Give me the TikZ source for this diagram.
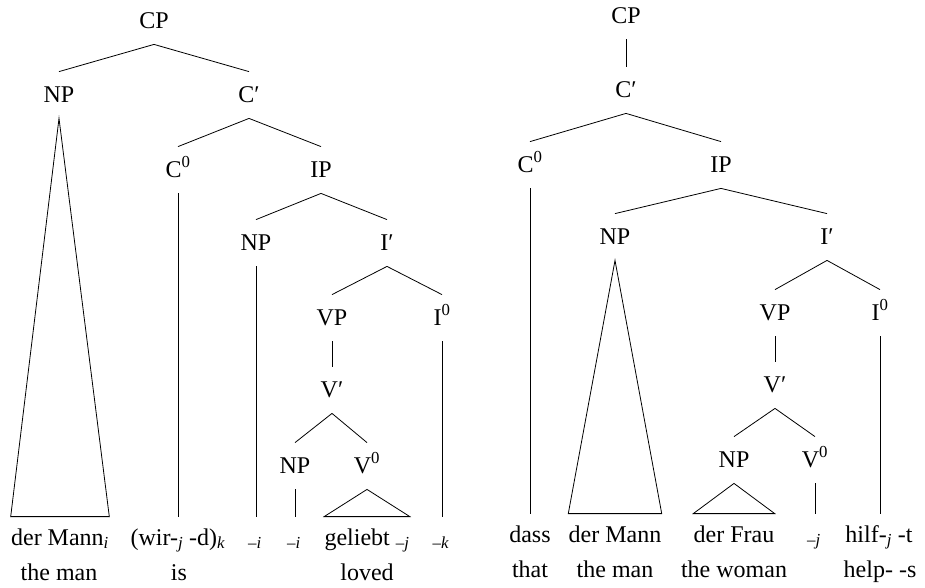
\documentclass[tikz,border=0pt]{standalone}
\usepackage{fontspec}
\setmainfont{Liberation Serif}
\newcommand{\mysub}[1]{\textsubscript{\textit{#1}}}
\newcommand{\mytrace}[1]{\textsubscript{–\textit{#1}}}
\begin{document}
\begin{tikzpicture}[x=1pt,y=-1pt,line width=0.8pt,
  font=\fontsize{24}{28}\selectfont,
  cat/.style={anchor=base,inner xsep=1pt,inner ysep=14pt,text height=16pt,text depth=2pt},
  leaf/.style={anchor=base,inner xsep=0pt,inner ysep=11pt,text height=17pt,text depth=5pt},
  gloss/.style={anchor=base,inner sep=0pt}]
\useasboundingbox (0,0) rectangle (925,587);
% ---------- left tree ----------
\node[cat] (cp) at (154,28) {CP};
\node[cat] (np1) at (59,102) {NP};
\node[cat] (c1) at (249,102) {C′};
\node[cat] (c0) at (178,177) {C\textsuperscript{0}};
\node[cat] (ip) at (321,177) {IP};
\node[cat] (np2) at (256,250) {NP};
\node[cat] (ib) at (387,250) {I′};
\node[cat] (vp) at (332,325) {VP};
\node[cat] (i0) at (442,325) {I\textsuperscript{0}};
\node[cat] (vb) at (332,397) {V′};
\node[cat] (np3) at (295,473) {NP};
\node[cat] (v0) at (367,473) {V\textsuperscript{0}};
\node[leaf] (l1) at (60,545) {der Mann\mysub{i}};
\node[leaf] (l2) at (178,545) {(wir-\mysub{j} -d)\mysub{k}};
\node[leaf] (l3) at (255,545) {\mytrace{i}};
\node[leaf] (l4) at (294,545) {\mytrace{i}};
\node[leaf] (l5) at (367,545) {geliebt \mytrace{j}};
\node[leaf] (l6) at (441,545) {\mytrace{k}};
\node[gloss] (g1) at (59,580) {the man};
\node[gloss] (g2) at (179,580) {is};
\node[gloss] (g5) at (367,580) {loved};
\draw (cp.south) -- (np1.north);
\draw (cp.south) -- (c1.north);
\draw (np1.south) -- (l1.north west) -- (l1.north east) -- cycle;
\draw (c1.south) -- (c0.north);
\draw (c1.south) -- (ip.north);
\draw (c0.south) -- (c0.south |- l2.north);
\draw (ip.south) -- (np2.north);
\draw (ip.south) -- (ib.north);
\draw (np2.south) -- (np2.south |- l3.north);
\draw (ib.south) -- (vp.north);
\draw (ib.south) -- (i0.north);
\draw (vp.south) -- (vb.north);
\draw (vb.south) -- (np3.north);
\draw (vb.south) -- (v0.north);
\draw (np3.south) -- (np3.south |- l4.north);
\draw (v0.south) -- (l5.north west) -- (l5.north east) -- cycle;
\draw (i0.south) -- (i0.south |- l6.north);
% ---------- right tree ----------
\node[cat] (rcp) at (626,23) {CP};
\node[cat] (rc1) at (626,97) {C′};
\node[cat] (rc0) at (530,172) {C\textsuperscript{0}};
\node[cat] (rip) at (721,172) {IP};
\node[cat] (rnp1) at (615,244) {NP};
\node[cat] (rib) at (827,244) {I′};
\node[cat] (rvp) at (775,320) {VP};
\node[cat] (ri0) at (880,320) {I\textsuperscript{0}};
\node[cat] (rvb) at (775,392) {V′};
\node[cat] (rnp2) at (734,467) {NP};
\node[cat] (rv0) at (815,467) {V\textsuperscript{0}};
\node[leaf] (r1) at (530,542) {dass};
\node[leaf] (r2) at (615,542) {der Mann};
\node[leaf] (r3) at (734,542) {der Frau};
\node[leaf] (r4) at (814,542) {\mytrace{j}};
\node[leaf] (r5) at (879,542) {hilf-\mysub{j} -t};
\node[gloss] (rg1) at (530,577) {that};
\node[gloss] (rg2) at (615,577) {the man};
\node[gloss] (rg3) at (734,577) {the woman};
\node[gloss] (rg5) at (880,577) {help- -s};
\draw (rcp.south) -- (rc1.north);
\draw (rc1.south) -- (rc0.north);
\draw (rc1.south) -- (rip.north);
\draw (rc0.south) -- (rc0.south |- r1.north);
\draw (rip.south) -- (rnp1.north);
\draw (rip.south) -- (rib.north);
\draw (rnp1.south) -- (r2.north west) -- (r2.north east) -- cycle;
\draw (rib.south) -- (rvp.north);
\draw (rib.south) -- (ri0.north);
\draw (rvp.south) -- (rvb.north);
\draw (rvb.south) -- (rnp2.north);
\draw (rvb.south) -- (rv0.north);
\draw (rnp2.south) -- (r3.north west) -- (r3.north east) -- cycle;
\draw (rv0.south) -- (rv0.south |- r4.north);
\draw (ri0.south) -- (ri0.south |- r5.north);
\end{tikzpicture}
\end{document}
